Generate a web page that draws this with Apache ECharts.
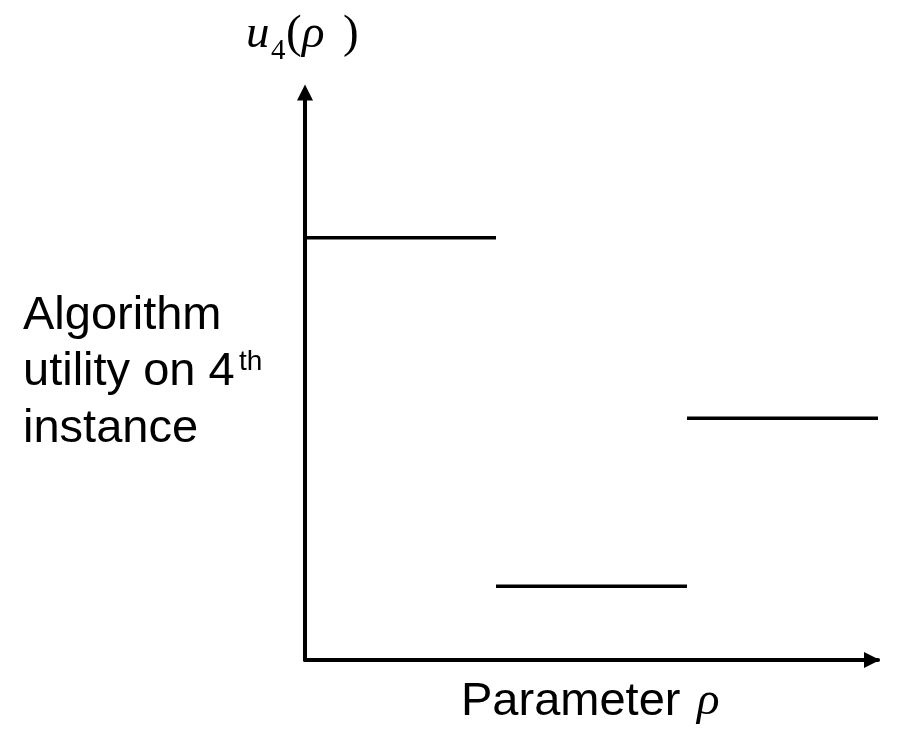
<!DOCTYPE html>
<html>
<head>
<meta charset="utf-8">
<script src="https://cdn.jsdelivr.net/npm/echarts@6/dist/echarts.min.js"></script>
<style>
html,body{margin:0;padding:0;background:#fff;}
#chart{width:897px;height:731px;}
</style>
</head>
<body>
<div id="chart"></div>
<script>
// Step-function segments: parameter intervals and utility values
const segmentStarts = [0, 1, 2];
const segmentEnds = [1, 2, 3];
const segmentValues = [7.44, 1.30, 4.26];

const xTitle = 'Parameter ';
const xSymbol = 'ρ';
const yTitleLines = ['Algorithm', 'utility on 4', 'instance'];
const yTitleSup = 'th';

const chart = echarts.init(document.getElementById('chart'), null, {renderer: 'canvas'});

const series = segmentStarts.map((s, i) => ({
  type: 'line',
  symbol: 'none',
  silent: true,
  clip: false,
  lineStyle: {color: '#000', width: 3.5},
  data: [[s, segmentValues[i]], [segmentEnds[i], segmentValues[i]]]
}));

const sans = '"Liberation Sans", Arial, sans-serif';
const serif = '"Liberation Serif", "Times New Roman", serif';

chart.setOption({
  animation: false,
  backgroundColor: '#fff',
  grid: {left: 305, right: 19, top: 92.5, bottom: 71, containLabel: false},
  xAxis: {
    type: 'value', min: 0, max: 3,
    axisLine: {show: true, lineStyle: {color: '#000', width: 4},
      symbol: ['none', 'triangle'], symbolSize: [16, 16], symbolOffset: [0, -6]},
    axisTick: {show: false}, axisLabel: {show: false}, splitLine: {show: false}
  },
  yAxis: {
    type: 'value', min: 0, max: 10,
    axisLine: {show: true, lineStyle: {color: '#000', width: 4},
      symbol: ['none', 'triangle'], symbolSize: [16, 16], symbolOffset: [0, 0]},
    axisTick: {show: false}, axisLabel: {show: false}, splitLine: {show: false}
  },
  series: series,
  graphic: [
    {type: 'text', left: 23, top: 315.7 - 23.5, style: {text: yTitleLines[0], font: '47px ' + sans, fill: '#000'}},
    {type: 'text', left: 23, top: 371.7 - 23.5, style: {text: yTitleLines[1], font: '47px ' + sans, fill: '#000'}},
    {type: 'text', left: 239, top: 362 - 13.5, style: {text: yTitleSup, font: '28px ' + sans, fill: '#000'}},
    {type: 'text', left: 23, top: 428.7 - 23.5, style: {text: yTitleLines[2], font: '47px ' + sans, fill: '#000'}},
    {type: 'text', left: 461, top: 678.2, style: {text: xTitle, font: '47px ' + sans, fill: '#000'}},
    {type: 'text', left: 697, top: 678.2, style: {text: xSymbol, font: 'italic 47px ' + serif, fill: '#000'}},
    {type: 'text', left: 246, top: 11.5, style: {text: 'u', font: 'italic 47px ' + serif, fill: '#000'}},
    {type: 'text', left: 271, top: 37, style: {text: '4', font: '29px ' + serif, fill: '#000'}},
    {type: 'text', left: 286, top: 11.5, style: {text: '(', font: '47px ' + serif, fill: '#000'}},
    {type: 'text', left: 302, top: 11.5, style: {text: 'ρ', font: 'italic 47px ' + serif, fill: '#000'}},
    {type: 'text', left: 343, top: 11.5, style: {text: ')', font: '47px ' + serif, fill: '#000'}}
  ]
});
</script>
</body>
</html>
